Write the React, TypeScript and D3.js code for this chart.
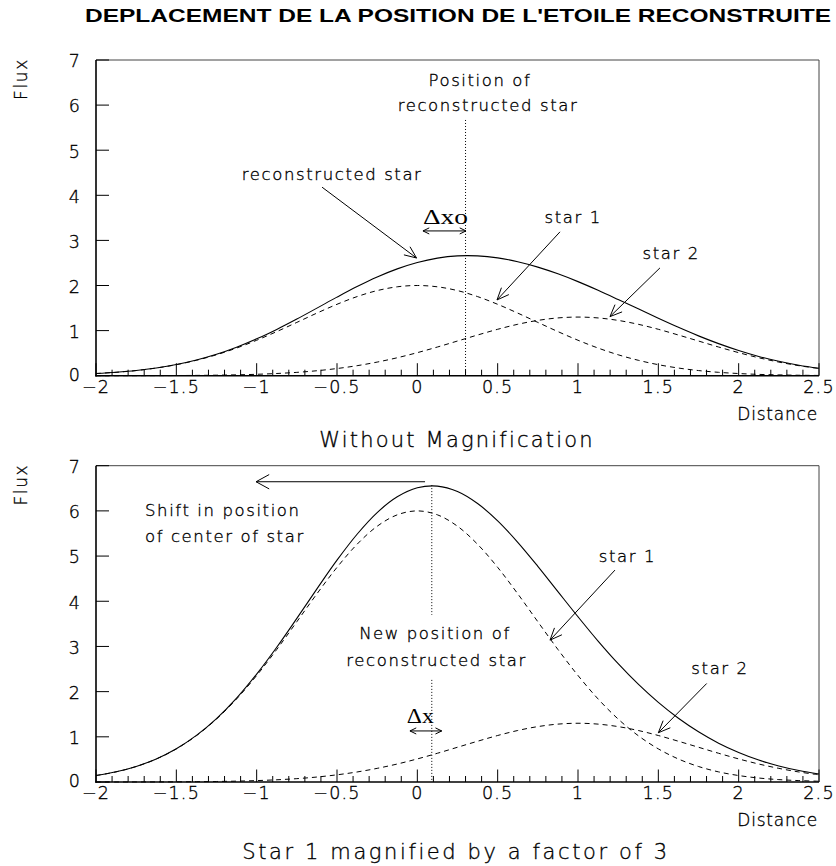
import React from "react";
import * as d3 from "d3";

// Sample positions along the distance axis
const distance = [
  -2, -1.875, -1.75, -1.625, -1.5, -1.375, -1.25, -1.125, -1, -0.875, -0.75, -0.625, -0.5, -0.375, -0.25, -0.125,
  0, 0.125, 0.25, 0.375, 0.5, 0.625, 0.75, 0.875, 1, 1.125, 1.25, 1.375, 1.5, 1.625, 1.75, 1.875, 2, 2.125, 2.25, 2.375, 2.5,
];

// Upper panel: without magnification
const topStar1 = [
  0.048, 0.075, 0.114, 0.17, 0.244, 0.342, 0.464, 0.613, 0.786, 0.978, 1.182, 1.388, 1.583, 1.754, 1.887, 1.971,
  2.0, 1.971, 1.887, 1.754, 1.583, 1.388, 1.182, 0.978, 0.786, 0.613, 0.464, 0.342, 0.244, 0.17, 0.114, 0.075, 0.048, 0.029, 0.018, 0.01, 0.006,
];
const topStar2 = [
  0.0003, 0.0006, 0.0011, 0.0021, 0.0038, 0.0067, 0.0114, 0.0191, 0.031, 0.049, 0.074, 0.11, 0.159, 0.222, 0.302, 0.398,
  0.511, 0.636, 0.769, 0.902, 1.029, 1.14, 1.226, 1.281, 1.3, 1.281, 1.226, 1.14, 1.029, 0.902, 0.769, 0.636, 0.511, 0.398, 0.302, 0.222, 0.159,
];
const topReconstructed = [
  0.048, 0.076, 0.115, 0.172, 0.248, 0.349, 0.475, 0.632, 0.817, 1.027, 1.256, 1.498, 1.742, 1.976, 2.189, 2.369,
  2.511, 2.607, 2.656, 2.656, 2.612, 2.528, 2.408, 2.259, 2.086, 1.894, 1.69, 1.482, 1.273, 1.072, 0.883, 0.711, 0.559, 0.427, 0.32, 0.232, 0.165,
];

// Lower panel: star 1 magnified by a factor of 3
const bottomStar1 = [
  0.143, 0.224, 0.343, 0.509, 0.733, 1.025, 1.393, 1.838, 2.357, 2.933, 3.547, 4.165, 4.75, 5.261, 5.66, 5.913,
  6.0, 5.913, 5.66, 5.261, 4.75, 4.165, 3.547, 2.933, 2.357, 1.838, 1.393, 1.025, 0.733, 0.509, 0.343, 0.224, 0.143, 0.088, 0.053, 0.031, 0.017,
];
const bottomStar2 = [
  0.0003, 0.0006, 0.0011, 0.0021, 0.0038, 0.0067, 0.0114, 0.0191, 0.031, 0.049, 0.074, 0.11, 0.159, 0.222, 0.302, 0.398,
  0.511, 0.636, 0.769, 0.902, 1.029, 1.14, 1.226, 1.281, 1.3, 1.281, 1.226, 1.14, 1.029, 0.902, 0.769, 0.636, 0.511, 0.398, 0.302, 0.222, 0.159,
];
const bottomReconstructed = [
  0.143, 0.225, 0.344, 0.511, 0.737, 1.032, 1.404, 1.857, 2.388, 2.982, 3.621, 4.275, 4.909, 5.483, 5.962, 6.311,
  6.511, 6.549, 6.429, 6.163, 5.779, 5.305, 4.773, 4.214, 3.657, 3.119, 2.619, 2.165, 1.762, 1.411, 1.112, 0.86, 0.654, 0.486, 0.355, 0.253, 0.176,
];

// Reconstructed-star positions
const topCenter = 0.3;
const bottomCenter = 0.09;

// Axis ticks
const xMajorTicks = [-2, -1.5, -1, -0.5, 0, 0.5, 1, 1.5, 2, 2.5];
const xTickLabels = ["\u22122", "\u22121.5", "\u22121", "\u22120.5", "0", "0.5", "1", "1.5", "2", "2.5"];
const yTicks = [0, 1, 2, 3, 4, 5, 6, 7];
const yTickLabels = ["0", "1", "2", "3", "4", "5", "6", "7"];

const TITLE = "DEPLACEMENT DE LA POSITION DE L'ETOILE RECONSTRUITE";
const TOP_CAPTION = "Without Magnification";
const BOTTOM_CAPTION = "Star 1 magnified by a factor of 3";

const W = 836;
const H = 866;
const LEFT = 96;
const RIGHT = 819;
const THIN = "'DejaVu Sans', 'Noto Sans', sans-serif";

// thin stroke font, slightly reinforced so it reads as a plotted line font
const thinText = {
  fontFamily: THIN,
  fontWeight: 200,
  fill: "#000",
  stroke: "#000",
  strokeWidth: 0.35,
} as const;

type Note = { text: string; x: number; y: number; anchor?: "start" | "middle" | "end" };
type Arrow = { x1: number; y1: number; x2: number; y2: number; head?: number };
type Dbl = { x1: number; x2: number; y: number };
type Delta = { text: string; x: number; y: number; len: number };
type Seg = { y1: number; y2: number };

const topNotes: Note[] = [
  { text: "Position of", x: 0.39, y: 6.56 },
  { text: "reconstructed star", x: 0.44, y: 6.0 },
  { text: "reconstructed star", x: -0.53, y: 4.47 },
  { text: "star 1", x: 0.97, y: 3.51 },
  { text: "star 2", x: 1.58, y: 2.72 },
];
const topArrows: Arrow[] = [
  { x1: -0.593, y1: 4.18, x2: -0.005, y2: 2.61 },
  { x1: 0.888, y1: 3.19, x2: 0.496, y2: 1.68 },
  { x1: 1.51, y1: 2.39, x2: 1.199, y2: 1.31 },
];
const topDbl: Dbl[] = [{ x1: 0.035, x2: 0.303, y: 3.21 }];
const topDelta: Delta[] = [{ text: "\u0394xo", x: 0.035, y: 3.36, len: 45 }];
const topDotted: Seg[] = [{ y1: 5.67, y2: 0 }];

const bottomNotes: Note[] = [
  { text: "Shift in position", x: -1.695, y: 6.02, anchor: "start" },
  { text: "of center of star", x: -1.695, y: 5.44, anchor: "start" },
  { text: "New position of", x: 0.11, y: 3.3 },
  { text: "reconstructed star", x: 0.12, y: 2.7 },
  { text: "star 1", x: 1.308, y: 5.0 },
  { text: "star 2", x: 1.884, y: 2.52 },
];
const bottomArrows: Arrow[] = [
  { x1: 0.048, y1: 6.645, x2: -1.004, y2: 6.645, head: 15 },
  { x1: 1.23, y1: 4.69, x2: 0.826, y2: 3.14 },
  { x1: 1.801, y1: 2.18, x2: 1.5, y2: 1.09 },
];
const bottomDbl: Dbl[] = [{ x1: -0.046, x2: 0.152, y: 1.13 }];
const bottomDelta: Delta[] = [{ text: "\u0394x", x: -0.066, y: 1.31, len: 27 }];
const bottomDotted: Seg[] = [
  { y1: 6.57, y2: 3.7 },
  { y1: 2.26, y2: 0 },
];

function headPath(x1: number, y1: number, x2: number, y2: number, len: number, half: number) {
  const a = Math.atan2(y2 - y1, x2 - x1);
  const ax = x2 - len * Math.cos(a - half);
  const ay = y2 - len * Math.sin(a - half);
  const bx = x2 - len * Math.cos(a + half);
  const by = y2 - len * Math.sin(a + half);
  return `M${ax},${ay}L${x2},${y2}L${bx},${by}`;
}

type PanelProps = {
  top: number;
  bottom: number;
  star1: number[];
  star2: number[];
  total: number[];
  center: number;
  notes: Note[];
  arrows: Arrow[];
  dbl: Dbl[];
  delta: Delta[];
  dotted: Seg[];
};

function Panel(p: PanelProps) {
  const x = d3.scaleLinear().domain([-2, 2.5]).range([LEFT, RIGHT]);
  const y = d3.scaleLinear().domain([0, 7]).range([p.bottom, p.top]);
  const line = (vals: number[]) =>
    d3
      .line<number>()
      .x((_, i) => x(distance[i]))
      .y((v) => y(v))
      .curve(d3.curveCatmullRom.alpha(0.5))(vals) || "";
  const minor = x.ticks(45);
  const cx = x(p.center);

  return (
    <g>
      {/* frame */}
      <line x1={LEFT} y1={p.top} x2={RIGHT} y2={p.top} stroke="#444" strokeWidth={1} />
      <line x1={RIGHT} y1={p.top} x2={RIGHT} y2={p.bottom} stroke="#444" strokeWidth={1} />
      <line x1={LEFT} y1={p.top} x2={LEFT} y2={p.bottom + 0.8} stroke="#000" strokeWidth={1.6} />
      <line x1={LEFT - 0.8} y1={p.bottom} x2={RIGHT} y2={p.bottom} stroke="#000" strokeWidth={1.6} />

      {/* x ticks */}
      {minor.map((t) => {
        const major = xMajorTicks.some((m) => Math.abs(m - t) < 1e-6);
        return (
          <line key={`mx${t}`} x1={x(t)} x2={x(t)} y1={p.bottom} y2={p.bottom - (major ? 12.5 : 6)} stroke="#000" strokeWidth={1} />
        );
      })}
      {xMajorTicks.map((t, i) => (
        <text key={`xl${t}`} x={x(t)} y={p.bottom + 11} dy="0.36em" textAnchor="middle" fontSize={17.5} letterSpacing={1.2} {...thinText}>
          {xTickLabels[i]}
        </text>
      ))}

      {/* y ticks */}
      {yTicks.map((t, i) => (
        <g key={`y${t}`}>
          <line x1={LEFT} x2={LEFT + 13} y1={y(t)} y2={y(t)} stroke="#000" strokeWidth={1} />
          <text x={80} y={y(t) + (t === 0 ? -1 : 1)} dy="0.36em" textAnchor="end" fontSize={17.5} {...thinText}>
            {yTickLabels[i]}
          </text>
        </g>
      ))}

      <text transform={`translate(21,${p.top + 19}) rotate(-90)`} dy="0.36em" textAnchor="middle" fontSize={17} letterSpacing={1.6} {...thinText}>
        Flux
      </text>
      <text x={RIGHT - 1} y={p.bottom + 38} dy="0.36em" textAnchor="end" fontSize={17} letterSpacing={0.8} {...thinText}>
        Distance
      </text>

      {/* dotted marker of the reconstructed star position */}
      {p.dotted.map((s, i) => (
        <line key={`d${i}`} x1={cx} x2={cx} y1={y(s.y1)} y2={y(s.y2)} stroke="#000" strokeWidth={1} strokeDasharray="1,2" />
      ))}

      {/* curves */}
      <path d={line(p.star1)} fill="none" stroke="#000" strokeWidth={1} strokeDasharray="5,4" />
      <path d={line(p.star2)} fill="none" stroke="#000" strokeWidth={1} strokeDasharray="5,4" />
      <path d={line(p.total)} fill="none" stroke="#000" strokeWidth={1.1} />

      {/* annotations */}
      {p.notes.map((n, i) => (
        <text key={`n${i}`} x={x(n.x)} y={y(n.y)} dy="0.36em" textAnchor={n.anchor || "middle"} fontSize={16.5} letterSpacing={1.6} {...thinText}>
          {n.text}
        </text>
      ))}
      {p.arrows.map((a, i) => {
        const x1 = x(a.x1), y1 = y(a.y1), x2 = x(a.x2), y2 = y(a.y2);
        const len = a.head || 13;
        return (
          <g key={`a${i}`} fill="none" stroke="#000" strokeWidth={1}>
            <line x1={x1} y1={y1} x2={x2} y2={y2} />
            <path d={headPath(x1, y1, x2, y2, len, a.head ? 0.5 : 0.4)} />
          </g>
        );
      })}
      {p.dbl.map((d, i) => {
        const x1 = x(d.x1), x2 = x(d.x2), yy = y(d.y);
        return (
          <g key={`b${i}`} fill="none" stroke="#000" strokeWidth={1}>
            <line x1={x1} y1={yy} x2={x2} y2={yy} />
            <path d={headPath(x2, yy, x1, yy, 7, 0.45)} />
            <path d={headPath(x1, yy, x2, yy, 7, 0.45)} />
          </g>
        );
      })}
      {p.delta.map((d, i) => (
        <text key={`dl${i}`} x={x(d.x)} y={y(d.y)} textLength={d.len} lengthAdjust="spacingAndGlyphs" fontFamily="'Liberation Serif', 'DejaVu Serif', serif" fontSize={22} fill="#000">
          {d.text}
        </text>
      ))}
    </g>
  );
}

export default function App() {
  return (
    <svg width={W} height={H} viewBox={`0 0 ${W} ${H}`} style={{ position: "absolute", left: 0, top: 0, background: "#fff" }}>
      <rect x={0} y={0} width={W} height={H} fill="#fff" />
      <text x={458} y={22} textAnchor="middle" textLength={746} lengthAdjust="spacingAndGlyphs" fontFamily="'Liberation Sans', Arial, sans-serif" fontWeight={700} fontSize={18.5} fill="#000">
        {TITLE}
      </text>
      <Panel
        top={60}
        bottom={375.7}
        star1={topStar1}
        star2={topStar2}
        total={topReconstructed}
        center={topCenter}
        notes={topNotes}
        arrows={topArrows}
        dbl={topDbl}
        delta={topDelta}
        dotted={topDotted}
      />
      <text x={457} y={439} dy="0.36em" textAnchor="middle" fontSize={21} letterSpacing={2.2} {...thinText}>
        {TOP_CAPTION}
      </text>
      <Panel
        top={465.7}
        bottom={782}
        star1={bottomStar1}
        star2={bottomStar2}
        total={bottomReconstructed}
        center={bottomCenter}
        notes={bottomNotes}
        arrows={bottomArrows}
        dbl={bottomDbl}
        delta={bottomDelta}
        dotted={bottomDotted}
      />
      <text x={456} y={851} dy="0.36em" textAnchor="middle" fontSize={21} letterSpacing={2.6} {...thinText}>
        {BOTTOM_CAPTION}
      </text>
    </svg>
  );
}
